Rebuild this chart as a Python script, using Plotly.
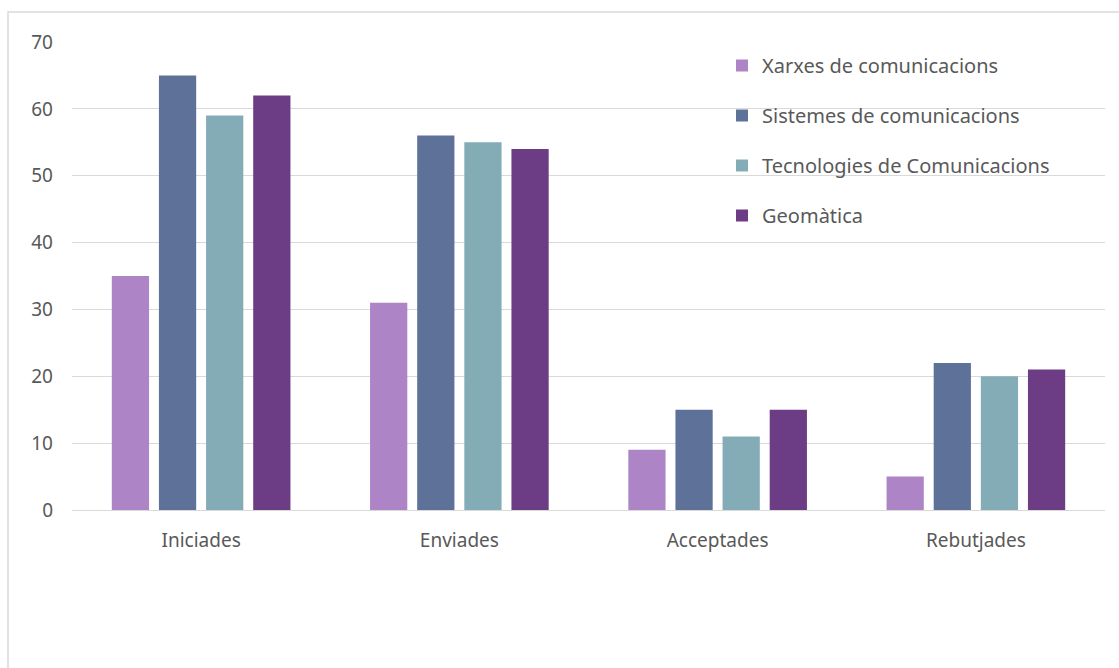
import plotly.graph_objects as go

categories = ["Iniciades", "Enviades", "Acceptades", "Rebutjades"]
series_names = ["Xarxes de comunicacions", "Sistemes de comunicacions",
                "Tecnologies de Comunicacions", "Geomàtica"]
xarxes = [35, 31, 9, 5]
sistemes = [65, 56, 15, 22]
tecnologies = [59, 55, 11, 20]
geomatica = [62, 54, 15, 21]
colors = ["#AD84C6", "#5E7299", "#84ACB6", "#6C3D85"]
y_ticks = [0, 10, 20, 30, 40, 50, 60, 70]

W, H = 1119, 668
L, R, T, B = 72, 14, 42, 158
pw, ph = W - L - R, H - T - B

fig = go.Figure()
for name, vals, col in zip(series_names, [xarxes, sistemes, tecnologies, geomatica], colors):
    fig.add_trace(go.Bar(x=categories, y=vals, name=name, legendgroup=name,
                         marker=dict(color=col, line=dict(width=0))))

font = "Noto Sans, Open Sans, sans-serif"
fig.update_layout(
    width=W, height=H,
    margin=dict(l=L, r=R, t=T, b=B),
    paper_bgcolor="white", plot_bgcolor="white",
    barmode="group", bargap=0.27, bargroupgap=0.21,
    font=dict(family=font, size=19, color="#595959"),
    legend=dict(x=(722 - L) / pw, y=(510 - 46) / ph, xanchor="left", yanchor="top",
                bgcolor="rgba(0,0,0,0)", tracegroupgap=21,
                font=dict(family=font, size=20, color="#595959")),
    xaxis=dict(showgrid=False, showline=False, ticks="", ticklabelstandoff=17,
               tickfont=dict(size=19, color="#595959")),
    yaxis=dict(range=[0, 70], tickvals=y_ticks, showgrid=True, gridcolor="#D9D9D9",
               gridwidth=1.3, zeroline=True, zerolinecolor="#D9D9D9", zerolinewidth=1.3,
               showline=False, ticks="", ticklabelstandoff=18,
               tickfont=dict(size=19, color="#595959")),
    shapes=[dict(type="rect", xref="paper", yref="paper",
                 x0=(8 - L) / pw, x1=(W + 20 - L) / pw,
                 y0=(510 - H - 20) / ph, y1=(510 - 12) / ph,
                 line=dict(color="#D9D9D9", width=1.5), layer="below")],
)
fig.write_html("out.html")
